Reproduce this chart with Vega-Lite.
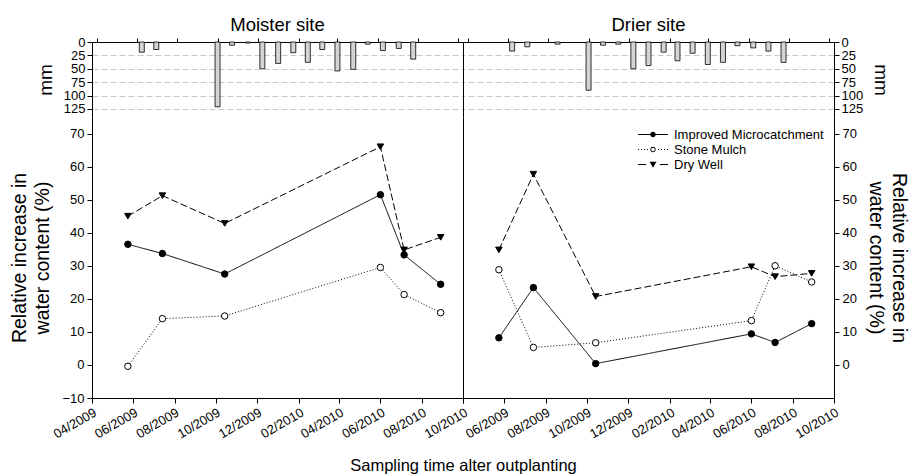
{
  "$schema": "https://vega.github.io/schema/vega-lite/v6.json",
  "padding": {"left": 9, "top": 15, "right": 5, "bottom": 5},
  "config": {
    "font": "Liberation Sans",
    "view": {"stroke": null},
    "axis": {"labelFontSize": 13, "titleFontSize": 18, "titleFontWeight": "normal", "labelColor": "black", "titleColor": "black", "tickColor": "black", "domainColor": "black", "grid": false, "labelFont": "Liberation Sans", "titleFont": "Liberation Sans", "labelOverlap": false},
    "title": {"fontSize": 18.5, "fontWeight": "normal", "font": "Liberation Sans", "color": "black"}
  },
  "datasets": {
    "rain": [
      {"site": "Moister", "date": "2009-06-08T00:00", "mm": 19},
      {"site": "Moister", "date": "2009-06-30T00:00", "mm": 14},
      {"site": "Moister", "date": "2009-10-01T00:00", "mm": 121},
      {"site": "Moister", "date": "2009-10-23T00:00", "mm": 6},
      {"site": "Moister", "date": "2009-11-16T00:00", "mm": 2},
      {"site": "Moister", "date": "2009-12-08T00:00", "mm": 50},
      {"site": "Moister", "date": "2010-01-01T00:00", "mm": 40},
      {"site": "Moister", "date": "2010-01-24T00:00", "mm": 20},
      {"site": "Moister", "date": "2010-02-15T00:00", "mm": 38},
      {"site": "Moister", "date": "2010-03-09T00:00", "mm": 14},
      {"site": "Moister", "date": "2010-04-01T00:00", "mm": 54},
      {"site": "Moister", "date": "2010-04-25T00:00", "mm": 51},
      {"site": "Moister", "date": "2010-05-17T00:00", "mm": 4},
      {"site": "Moister", "date": "2010-06-09T00:00", "mm": 16},
      {"site": "Moister", "date": "2010-07-03T00:00", "mm": 12},
      {"site": "Moister", "date": "2010-07-25T00:00", "mm": 32},
      {"site": "Drier", "date": "2009-06-07T00:00", "mm": 17},
      {"site": "Drier", "date": "2009-06-30T00:00", "mm": 9},
      {"site": "Drier", "date": "2009-08-15T00:00", "mm": 4},
      {"site": "Drier", "date": "2009-10-01T00:00", "mm": 90},
      {"site": "Drier", "date": "2009-10-23T00:00", "mm": 6},
      {"site": "Drier", "date": "2009-11-15T00:00", "mm": 4},
      {"site": "Drier", "date": "2009-12-08T00:00", "mm": 50},
      {"site": "Drier", "date": "2009-12-31T00:00", "mm": 44},
      {"site": "Drier", "date": "2010-01-23T00:00", "mm": 19},
      {"site": "Drier", "date": "2010-02-13T00:00", "mm": 35},
      {"site": "Drier", "date": "2010-03-08T00:00", "mm": 21},
      {"site": "Drier", "date": "2010-03-31T00:00", "mm": 42},
      {"site": "Drier", "date": "2010-04-23T00:00", "mm": 38},
      {"site": "Drier", "date": "2010-05-15T00:00", "mm": 7},
      {"site": "Drier", "date": "2010-06-08T00:00", "mm": 11},
      {"site": "Drier", "date": "2010-07-01T00:00", "mm": 17},
      {"site": "Drier", "date": "2010-07-24T00:00", "mm": 38}
    ],
    "wc": [
      {"site": "Moister", "series": "Improved Microcatchment", "date": "2009-05-24T00:00", "value": 36.5},
      {"site": "Moister", "series": "Improved Microcatchment", "date": "2009-07-14T00:00", "value": 33.7},
      {"site": "Moister", "series": "Improved Microcatchment", "date": "2009-10-14T00:00", "value": 27.5},
      {"site": "Moister", "series": "Improved Microcatchment", "date": "2010-06-01T00:00", "value": 51.5},
      {"site": "Moister", "series": "Improved Microcatchment", "date": "2010-07-06T00:00", "value": 33.3},
      {"site": "Moister", "series": "Improved Microcatchment", "date": "2010-08-29T00:00", "value": 24.4},
      {"site": "Moister", "series": "Stone Mulch", "date": "2009-05-24T00:00", "value": -0.4},
      {"site": "Moister", "series": "Stone Mulch", "date": "2009-07-14T00:00", "value": 14.0},
      {"site": "Moister", "series": "Stone Mulch", "date": "2009-10-14T00:00", "value": 14.8},
      {"site": "Moister", "series": "Stone Mulch", "date": "2010-06-01T00:00", "value": 29.5},
      {"site": "Moister", "series": "Stone Mulch", "date": "2010-07-06T00:00", "value": 21.3},
      {"site": "Moister", "series": "Stone Mulch", "date": "2010-08-29T00:00", "value": 15.8},
      {"site": "Moister", "series": "Dry Well", "date": "2009-05-24T00:00", "value": 45.0},
      {"site": "Moister", "series": "Dry Well", "date": "2009-07-14T00:00", "value": 51.2},
      {"site": "Moister", "series": "Dry Well", "date": "2009-10-14T00:00", "value": 42.8},
      {"site": "Moister", "series": "Dry Well", "date": "2010-06-01T00:00", "value": 66.0},
      {"site": "Moister", "series": "Dry Well", "date": "2010-07-06T00:00", "value": 34.8},
      {"site": "Moister", "series": "Dry Well", "date": "2010-08-29T00:00", "value": 38.6},
      {"site": "Drier", "series": "Improved Microcatchment", "date": "2009-05-24T00:00", "value": 8.2},
      {"site": "Drier", "series": "Improved Microcatchment", "date": "2009-07-14T00:00", "value": 23.4},
      {"site": "Drier", "series": "Improved Microcatchment", "date": "2009-10-14T00:00", "value": 0.4},
      {"site": "Drier", "series": "Improved Microcatchment", "date": "2010-06-01T00:00", "value": 9.4},
      {"site": "Drier", "series": "Improved Microcatchment", "date": "2010-07-06T00:00", "value": 6.8},
      {"site": "Drier", "series": "Improved Microcatchment", "date": "2010-08-29T00:00", "value": 12.5},
      {"site": "Drier", "series": "Stone Mulch", "date": "2009-05-24T00:00", "value": 28.8},
      {"site": "Drier", "series": "Stone Mulch", "date": "2009-07-14T00:00", "value": 5.3},
      {"site": "Drier", "series": "Stone Mulch", "date": "2009-10-14T00:00", "value": 6.7},
      {"site": "Drier", "series": "Stone Mulch", "date": "2010-06-01T00:00", "value": 13.4},
      {"site": "Drier", "series": "Stone Mulch", "date": "2010-07-06T00:00", "value": 30.0},
      {"site": "Drier", "series": "Stone Mulch", "date": "2010-08-29T00:00", "value": 25.1},
      {"site": "Drier", "series": "Dry Well", "date": "2009-05-24T00:00", "value": 34.8},
      {"site": "Drier", "series": "Dry Well", "date": "2009-07-14T00:00", "value": 57.7},
      {"site": "Drier", "series": "Dry Well", "date": "2009-10-14T00:00", "value": 20.7},
      {"site": "Drier", "series": "Dry Well", "date": "2010-06-01T00:00", "value": 29.7},
      {"site": "Drier", "series": "Dry Well", "date": "2010-07-06T00:00", "value": 26.7},
      {"site": "Drier", "series": "Dry Well", "date": "2010-08-29T00:00", "value": 27.7}
    ]
  },
  "columns": 2,
  "spacing": 0,
  "bounds": "flush",
  "resolve": {
    "scale": {"shape": "independent", "fill": "independent", "strokeDash": "independent"},
    "legend": {"shape": "independent", "fill": "independent", "strokeDash": "independent"}
  },
  "concat": [
    {
      "title": {"text": "Moister site", "offset": 2},
      "width": 371,
      "height": 75,
      "data": {"name": "rain"},
      "transform": [{"filter": "datum.site == 'Moister'"}],
      "mark": {"type": "bar", "size": 5, "color": "#d4d4d4", "stroke": "black", "strokeWidth": 0.8},
      "encoding": {
        "x": {"field": "date", "type": "temporal",
          "scale": {"domain": [{"year": 2009, "month": 4, "date": 1}, {"year": 2010, "month": 10, "date": 1}]},
          "axis": {"orient": "top", "labels": false, "tickSize": 4, "title": null,
            "values": [{"year": 2009, "month": 4, "date": 1}, {"year": 2009, "month": 6, "date": 1}, {"year": 2009, "month": 8, "date": 1}, {"year": 2009, "month": 10, "date": 1}, {"year": 2009, "month": 12, "date": 1}, {"year": 2010, "month": 2, "date": 1}, {"year": 2010, "month": 4, "date": 1}, {"year": 2010, "month": 6, "date": 1}, {"year": 2010, "month": 8, "date": 1}, {"year": 2010, "month": 10, "date": 1}]}},
        "y": {"field": "mm", "type": "quantitative",
          "scale": {"domain": [0, 140], "reverse": true, "nice": false},
          "axis": {"orient": "left", "title": "mm", "titleFontSize": 19, "values": [0, 25, 50, 75, 100, 125], "labelOverlap": false, "grid": true, "gridDash": [6, 3], "gridColor": "#c8c8c8", "tickSize": 5, "labelPadding": 2, "titlePadding": 8}}
      }
    },
    {
      "title": {"text": "Drier site", "offset": 2},
      "width": 371,
      "height": 75,
      "data": {"name": "rain"},
      "transform": [{"filter": "datum.site == 'Drier'"}],
      "resolve": {"axis": {"y": "independent"}},
      "layer": [
        {
          "mark": {"type": "bar", "size": 5, "color": "#d4d4d4", "stroke": "black", "strokeWidth": 0.8},
          "encoding": {
            "x": {"field": "date", "type": "temporal",
              "scale": {"domain": [{"year": 2009, "month": 4, "date": 1}, {"year": 2010, "month": 10, "date": 1}]},
              "axis": {"orient": "top", "labels": false, "tickSize": 4, "title": null,
                "values": [{"year": 2009, "month": 4, "date": 1}, {"year": 2009, "month": 6, "date": 1}, {"year": 2009, "month": 8, "date": 1}, {"year": 2009, "month": 10, "date": 1}, {"year": 2009, "month": 12, "date": 1}, {"year": 2010, "month": 2, "date": 1}, {"year": 2010, "month": 4, "date": 1}, {"year": 2010, "month": 6, "date": 1}, {"year": 2010, "month": 8, "date": 1}, {"year": 2010, "month": 10, "date": 1}]}},
            "y": {"field": "mm", "type": "quantitative",
              "scale": {"domain": [0, 140], "reverse": true, "nice": false},
              "axis": {"orient": "right", "title": "mm", "titleAngle": 90, "titleFontSize": 19, "values": [0, 25, 50, 75, 100, 125], "labelOverlap": false, "grid": true, "gridDash": [6, 3], "gridColor": "#c8c8c8", "tickSize": 5, "labelPadding": 2, "titlePadding": 8}}
          }
        },
        {
          "transform": [{"filter": "false"}],
          "mark": {"type": "bar", "size": 5},
          "encoding": {
            "x": {"field": "date", "type": "temporal"},
            "y": {"field": "mm", "type": "quantitative",
              "axis": {"orient": "left", "labels": false, "ticks": false, "title": null, "domain": true}}
          }
        }
      ]
    },
    {
      "width": 371,
      "height": 281,
      "data": {"name": "wc"},
      "transform": [{"filter": "datum.site == 'Moister'"}],
      "layer": [
        {
          "mark": {"type": "line", "color": "black", "strokeWidth": 1},
          "encoding": {
            "x": {"field": "date", "type": "temporal",
              "scale": {"domain": [{"year": 2009, "month": 4, "date": 1}, {"year": 2010, "month": 10, "date": 1}]},
              "axis": {"format": "%m/%Y", "labelAngle": -30, "labelAlign": "right", "labelBaseline": "top", "tickSize": 5, "labelPadding": 3,
                "title": "Sampling time alter outplanting", "titleFontSize": 16.5, "titleX": 371, "titleAlign": "center", "titlePadding": 17,
                "values": [{"year": 2009, "month": 4, "date": 1}, {"year": 2009, "month": 6, "date": 1}, {"year": 2009, "month": 8, "date": 1}, {"year": 2009, "month": 10, "date": 1}, {"year": 2009, "month": 12, "date": 1}, {"year": 2010, "month": 2, "date": 1}, {"year": 2010, "month": 4, "date": 1}, {"year": 2010, "month": 6, "date": 1}, {"year": 2010, "month": 8, "date": 1}, {"year": 2010, "month": 10, "date": 1}]}},
            "y": {"field": "value", "type": "quantitative",
              "scale": {"domain": [-10, 75], "nice": false},
              "axis": {"title": ["Relative increase in", "water content (%)"], "titleFontSize": 19.5, "titleLineHeight": 23, "values": [-10, 0, 10, 20, 30, 40, 50, 60, 70], "labelOverlap": false, "tickSize": 5, "labelPadding": 3, "titlePadding": 9}},
            "strokeDash": {"field": "series", "type": "nominal",
              "scale": {"domain": ["Improved Microcatchment", "Stone Mulch", "Dry Well"], "range": [[1, 0], [1, 2], [7, 3]]}, "legend": null}
          }
        },
        {
          "mark": {"type": "point", "filled": false, "stroke": "black", "strokeWidth": 1, "size": 42, "opacity": 1},
          "encoding": {
            "x": {"field": "date", "type": "temporal"},
            "y": {"field": "value", "type": "quantitative",
              "axis": {"title": ["Relative increase in", "water content (%)"], "titleFontSize": 19.5, "titleLineHeight": 23, "values": [-10, 0, 10, 20, 30, 40, 50, 60, 70], "labelOverlap": false, "tickSize": 5, "labelPadding": 3, "titlePadding": 9}},
            "shape": {"field": "series", "type": "nominal",
              "scale": {"domain": ["Improved Microcatchment", "Stone Mulch", "Dry Well"], "range": ["circle", "circle", "triangle-down"]}, "legend": null},
            "fill": {"field": "series", "type": "nominal",
              "scale": {"domain": ["Improved Microcatchment", "Stone Mulch", "Dry Well"], "range": ["black", "white", "black"]}, "legend": null}
          }
        }
      ]
    },
    {
      "width": 371,
      "height": 281,
      "data": {"name": "wc"},
      "transform": [{"filter": "datum.site == 'Drier'"}],
      "resolve": {"axis": {"y": "independent"}, "scale": {"shape": "independent"}, "legend": {"shape": "independent"}},
      "layer": [
        {
          "mark": {"type": "line", "color": "black", "strokeWidth": 1},
          "encoding": {
            "x": {"field": "date", "type": "temporal",
              "scale": {"domain": [{"year": 2009, "month": 4, "date": 1}, {"year": 2010, "month": 10, "date": 1}]},
              "axis": {"format": "%m/%Y", "labelAngle": -30, "labelAlign": "right", "labelBaseline": "top", "tickSize": 5, "labelPadding": 3, "title": null,
                "labelExpr": "timeFormat(datum.value, '%m/%Y') == '04/2009' ? '' : timeFormat(datum.value, '%m/%Y')",
                "values": [{"year": 2009, "month": 4, "date": 1}, {"year": 2009, "month": 6, "date": 1}, {"year": 2009, "month": 8, "date": 1}, {"year": 2009, "month": 10, "date": 1}, {"year": 2009, "month": 12, "date": 1}, {"year": 2010, "month": 2, "date": 1}, {"year": 2010, "month": 4, "date": 1}, {"year": 2010, "month": 6, "date": 1}, {"year": 2010, "month": 8, "date": 1}, {"year": 2010, "month": 10, "date": 1}]}},
            "y": {"field": "value", "type": "quantitative",
              "scale": {"domain": [-10, 75], "nice": false},
              "axis": {"orient": "left", "labels": false, "ticks": false, "title": null, "domain": true}},
            "strokeDash": {"field": "series", "type": "nominal",
              "scale": {"domain": ["Improved Microcatchment", "Stone Mulch", "Dry Well"], "range": [[1, 0], [1, 2], [7, 3]]}, "legend": null}
          }
        },
        {
          "mark": {"type": "point", "filled": false, "stroke": "black", "strokeWidth": 1, "size": 42, "opacity": 1},
          "encoding": {
            "x": {"field": "date", "type": "temporal"},
            "y": {"field": "value", "type": "quantitative",
              "axis": {"orient": "right", "title": ["Relative increase in", "water content (%)"], "titleFontSize": 19.5, "titleAngle": 90, "titleLineHeight": 23, "values": [0, 10, 20, 30, 40, 50, 60, 70], "labelOverlap": false, "tickSize": 5, "labelPadding": 3, "titlePadding": 9}},
            "shape": {"field": "series", "type": "nominal",
              "scale": {"domain": ["Improved Microcatchment", "Stone Mulch", "Dry Well"], "range": ["circle", "circle", "triangle-down"]}, "legend": null},
            "fill": {"field": "series", "type": "nominal",
              "scale": {"domain": ["Improved Microcatchment", "Stone Mulch", "Dry Well"], "range": ["black", "white", "black"]}, "legend": null}
          }
        },
        {
          "transform": [{"filter": "false"}],
          "mark": {"type": "point", "filled": true, "color": "black"},
          "encoding": {
            "x": {"field": "date", "type": "temporal"},
            "y": {"field": "value", "type": "quantitative", "axis": null},
            "shape": {"field": "series", "type": "nominal",
              "scale": {"domain": ["Improved Microcatchment", "Stone Mulch", "Dry Well"],
                "range": [
                  "M-1,-0.035H1V0.035H-1Z M0.18,0A0.18,0.18,0,1,1,-0.18,0A0.18,0.18,0,1,1,0.18,0Z",
                  "M-1,-0.035h0.066v0.07h-0.066Z M-0.8,-0.035h0.066v0.07h-0.066Z M-0.6,-0.035h0.066v0.07h-0.066Z M-0.4,-0.035h0.066v0.07h-0.066Z M0.334,-0.035h0.066v0.07h-0.066Z M0.534,-0.035h0.066v0.07h-0.066Z M0.734,-0.035h0.066v0.07h-0.066Z M0.934,-0.035h0.066v0.07h-0.066Z M0.18,0A0.18,0.18,0,1,1,-0.18,0A0.18,0.18,0,1,1,0.18,0Z M0.12,0A0.12,0.12,0,1,0,-0.12,0A0.12,0.12,0,1,0,0.12,0Z",
                  "M-1,-0.035H-0.45V0.035H-1Z M0.45,-0.035H1V0.035H0.45Z M-0.23,-0.18L0.23,-0.18L0,0.22Z"
                ]},
              "legend": {"title": null, "orient": "top-right", "offset": 10, "labelFontSize": 13, "labelLimit": 300, "labelColor": "black", "symbolSize": 900, "symbolStrokeWidth": 0, "symbolFillColor": "black", "symbolOpacity": 1, "labelOffset": 6, "rowPadding": 0, "clipHeight": 15}}
          }
        }
      ]
    }
  ]
}
